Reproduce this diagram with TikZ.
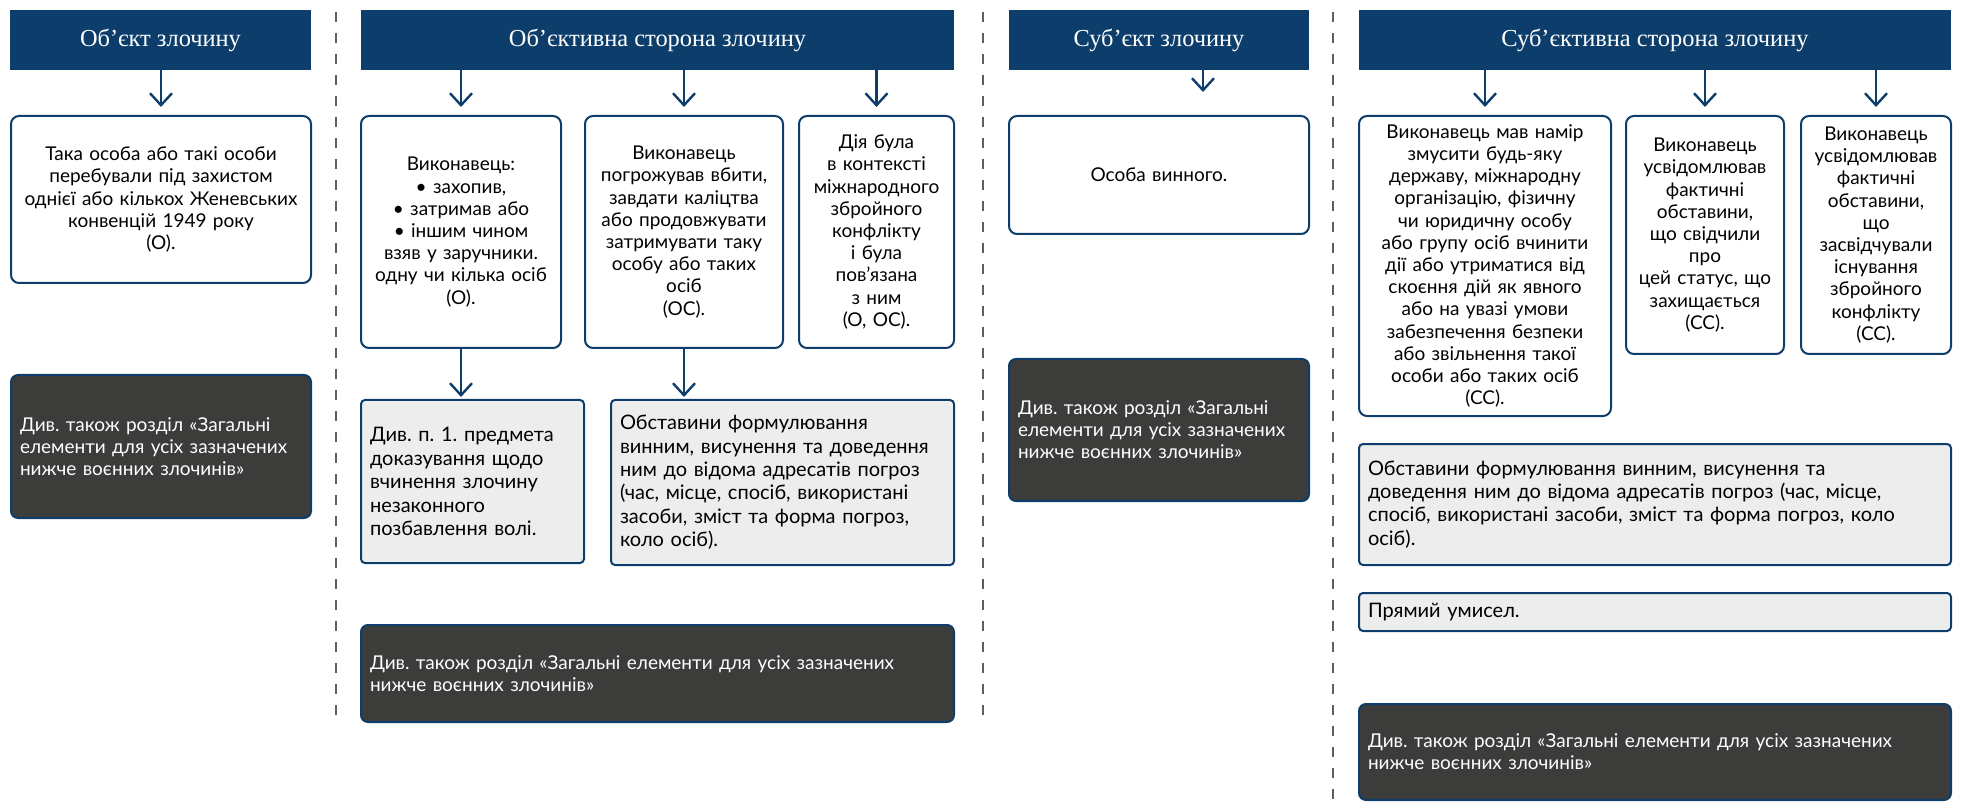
\documentclass[tikz,border=0pt]{standalone}
\usepackage{fontspec}
\setmainfont{Lato}
\newfontfamily\headfont{Liberation Serif}
\usetikzlibrary{arrows.meta}
\definecolor{hblue}{RGB}{13,62,107}
\definecolor{greyfill}{RGB}{237,237,237}
\definecolor{darkfill}{RGB}{60,60,59}
\definecolor{dashgrey}{RGB}{95,95,95}
\frenchspacing

\begin{document}
\begin{tikzpicture}[x=0.5pt,y=-0.5pt,
  head/.style={fill=hblue, text=white, inner sep=0pt, minimum height=30pt,
    font=\headfont\fontsize{12.2}{15}\selectfont},
  wbox/.style={draw=hblue, line width=1pt, rounded corners=4pt, fill=white,
    inner sep=0pt, align=center, font=\fontsize{9.5}{11.1}\selectfont},
  gbox/.style={draw=hblue, line width=1pt, rounded corners=2pt, fill=greyfill,
    inner sep=0pt, align=left, font=\fontsize{10}{11.7}\selectfont},
  dbox/.style={draw=hblue, line width=1pt, rounded corners=3.5pt, fill=darkfill,
    text=white, inner sep=0pt, align=left, font=\fontsize{9.5}{11}\selectfont},
  arr/.style={draw=hblue, line width=1.2pt,
    -{Straight Barb[length=6pt,width=11pt]}},
  sep/.style={draw=dashgrey, line width=1.3pt, dash pattern=on 5pt off 5.5pt}]
\useasboundingbox (0,0) rectangle (1961,802);


\node[head, minimum width=150.5pt] (h1) at (160.5,40) {Об’єкт злочину};
\node[head, minimum width=296.5pt] (h2) at (657.5,40) {Об’єктивна сторона злочину};
\node[head, minimum width=150pt] (h3) at (1159,40) {Суб’єкт злочину};
\node[head, minimum width=296pt] (h4) at (1655,40) {Суб’єктивна сторона злочину};

\node[wbox, minimum width=150pt, minimum height=83.5pt, text width=144pt] (obj1) at (161,199.5)
  {Така особа або такі особи\\перебували під захистом\\однієї або кількох Женевських\\конвенцій 1949 року\\(О).};
\node[dbox, minimum width=150pt, minimum height=71.5pt, text width=141pt] (see1) at (161,446.5)
  {Див. також розділ «Загальні\\елементи для усіх зазначених\\нижче воєнних злочинів»};

\node[wbox, minimum width=100pt, minimum height=116pt, text width=97pt] (act1) at (461,232)
  {Виконавець:\\• захопив,\\• затримав або\\• іншим чином\\взяв у заручники.\\одну чи кілька осіб\\(О).};
\node[wbox, minimum width=99pt, minimum height=116pt, text width=96pt] (act2) at (684,232)
  {Виконавець\\погрожував вбити,\\завдати каліцтва\\або продовжувати\\затримувати таку\\особу або таких\\осіб\\(ОС).};
\node[wbox, minimum width=77.5pt, minimum height=116pt, text width=75pt] (act3) at (876.5,232)
  {Дія була\\в контексті\\міжнародного\\збройного\\конфлікту\\і була\\пов’язана\\з ним\\(О, ОС).};
\node[gbox, minimum width=111.5pt, minimum height=81.5pt, text width=102.5pt] (det1) at (472.5,481.5)
  {Див. п. 1. предмета\\доказування щодо\\вчинення злочину\\незаконного\\позбавлення волі.};
\node[gbox, minimum width=171.5pt, minimum height=82.5pt, text width=162.5pt] (det2) at (782.5,482.5)
  {Обставини формулювання\\винним, висунення та доведення\\ним до відома адресатів погроз\\(час, місце, спосіб, використані\\засоби, зміст та форма погроз,\\коло осіб).};
\node[dbox, minimum width=296.5pt, minimum height=48.5pt, text width=287.5pt] (see2) at (657.5,673.5)
  {Див. також розділ «Загальні елементи для усіх зазначених\\нижче воєнних злочинів»};

\node[wbox, minimum width=150pt, minimum height=59pt, text width=144pt] (subj1) at (1159,175)
  {Особа винного.};
\node[dbox, minimum width=150pt, minimum height=71pt, text width=141pt] (see3) at (1159,430)
  {Див. також розділ «Загальні\\елементи для усіх зазначених\\нижче воєнних злочинів»};
\coordinate (subjtip) at (1203,92);

\node[wbox, minimum width=126pt, minimum height=150pt, text width=123pt] (mens1) at (1485,266)
  {Виконавець мав намір\\змусити будь-яку\\державу, міжнародну\\організацію, фізичну\\чи юридичну особу\\або групу осіб вчинити\\дії або утриматися від\\скоєння дій як явного\\або на увазі умови\\забезпечення безпеки\\або звільнення такої\\особи або таких осіб\\(СС).};
\node[wbox, minimum width=79pt, minimum height=119pt, text width=77pt] (mens2) at (1705,235)
  {Виконавець\\усвідомлював\\фактичні\\обставини,\\що свідчили\\про\\цей статус, що\\захищається\\(СС).};
\node[wbox, minimum width=75pt, minimum height=119pt, text width=73pt] (mens3) at (1876,235)
  {Виконавець\\усвідомлював\\фактичні\\обставини,\\що\\засвідчували\\існування\\збройного\\конфлікту\\(СС).};
\node[gbox, minimum width=296pt, minimum height=60.5pt, text width=287pt] (det3) at (1655,504.5)
  {Обставини формулювання винним, висунення та\\доведення ним до відома адресатів погроз (час, місце,\\спосіб, використані засоби, зміст та форма погроз, коло\\осіб).};
\node[gbox, minimum width=296pt, minimum height=19pt, text width=287pt] (intent) at (1655,612)
  {Прямий умисел.};
\node[dbox, minimum width=296pt, minimum height=48pt, text width=287pt] (see4) at (1655,752)
  {Див. також розділ «Загальні елементи для усіх зазначених\\нижче воєнних злочинів»};

\coordinate (s1a) at (336,12);
\coordinate (s1b) at (336,717);
\coordinate (s2a) at (983,12);
\coordinate (s2b) at (983,717);
\coordinate (s3a) at (1333,12);
\coordinate (s3b) at (1333,802);
\draw[sep] (s1a) -- (s1b);
\draw[sep] (s2a) -- (s2b);
\draw[sep] (s3a) -- (s3b);

\draw[arr, shorten >=4pt] (h1.south -| obj1.north) -- (obj1.north);
\draw[arr, shorten >=4pt] (h2.south -| act1.north) -- (act1.north);
\draw[arr, shorten >=4pt] (h2.south -| act2.north) -- (act2.north);
\draw[arr, shorten >=4pt] (h2.south -| act3.north) -- (act3.north);
\draw[arr, shorten >=1pt] (act1.south) -- (act1.south |- det1.north);
\draw[arr, shorten >=1pt] (act2.south) -- (act2.south |- det2.north);
\draw[arr] (h3.south -| subjtip) -- (subjtip);
\draw[arr, shorten >=4pt] (h4.south -| mens1.north) -- (mens1.north);
\draw[arr, shorten >=4pt] (h4.south -| mens2.north) -- (mens2.north);
\draw[arr, shorten >=4pt] (h4.south -| mens3.north) -- (mens3.north);
\end{tikzpicture}
\end{document}
